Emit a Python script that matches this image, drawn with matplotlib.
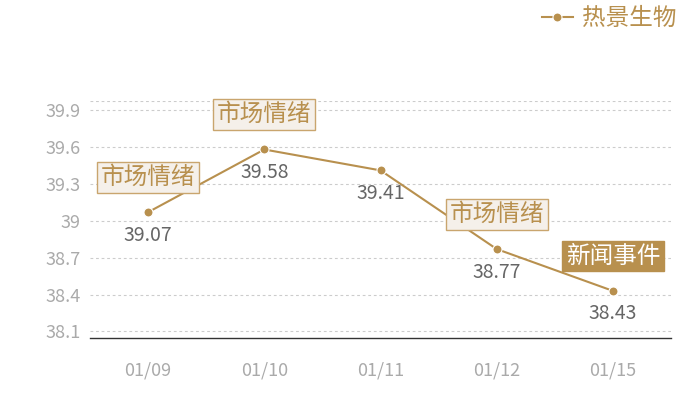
import matplotlib
matplotlib.use('Agg')
import matplotlib.pyplot as plt

plt.rcParams['font.family'] = ['Noto Sans CJK SC', 'DejaVu Sans']

# 数据
dates = ['01/09', '01/10', '01/11', '01/12', '01/15']
prices = [39.07, 39.58, 39.41, 38.77, 38.43]
series_name = '热景生物'
yticks = [38.1, 38.4, 38.7, 39.0, 39.3, 39.6, 39.9]
ytick_labels = ['38.1', '38.4', '38.7', '39', '39.3', '39.6', '39.9']
# 事件标注: (点序号, 文字, 类型)
events = [(0, '市场情绪', 'light'), (1, '市场情绪', 'light'),
          (3, '市场情绪', 'light'), (4, '新闻事件', 'dark')]

gold = '#b8904e'

fig = plt.figure(figsize=(7, 4), dpi=100)
ax = fig.add_axes([0.1286, 0.156, 0.83, 0.592])

x = list(range(len(dates)))
ax.plot(x, prices, color=gold, linewidth=1.5, marker='o', markersize=6.5,
        markeredgecolor='white', markeredgewidth=0.8, zorder=3, label=series_name)

ax.set_xlim(-0.5, len(dates) - 0.5)
ax.set_ylim(38.05, 39.976)
ax.set_xticks(x)
ax.set_xticklabels(dates, color='#aaaaaa', fontsize=13)
ax.set_yticks(yticks)
ax.set_yticklabels(ytick_labels, color='#aaaaaa', fontsize=13)
ax.tick_params(length=0, pad=7)
ax.tick_params(axis='x', pad=17)

for s in ['top', 'right', 'left']:
    ax.spines[s].set_visible(False)
ax.spines['bottom'].set_color('#333333')
ax.spines['bottom'].set_linewidth(1)

ax.grid(axis='y', linestyle=(0, (2.5, 2.5)), color='#cccccc', linewidth=0.8)
ax.axhline(39.976, linestyle=(0, (2.5, 2.5)), color='#cccccc', linewidth=0.8)

# 数值标签
for xi, v in zip(x, prices):
    ax.annotate('%.2f' % v, (xi, v), xytext=(0, -9), textcoords='offset points',
                ha='center', va='top', fontsize=14, color='#666666')

# 事件标注
for idx, txt, kind in events:
    if kind == 'light':
        box = dict(boxstyle='square,pad=0.16', facecolor='#f5f0ea', edgecolor='#c9a56e', linewidth=1)
        tc = gold
    else:
        box = dict(boxstyle='square,pad=0.16', facecolor=gold, edgecolor=gold, linewidth=1)
        tc = 'white'
    ax.annotate(txt, (idx, prices[idx]), xytext=(0, 25), textcoords='offset points',
                ha='center', va='center', fontsize=17, color=tc, bbox=box, zorder=4)

leg = fig.legend(loc='upper right', bbox_to_anchor=(0.997, 1.035), frameon=False,
                 fontsize=17, handlelength=1.3, handletextpad=0.4)
for t in leg.get_texts():
    t.set_color(gold)

fig.savefig('out.png', dpi=100)
